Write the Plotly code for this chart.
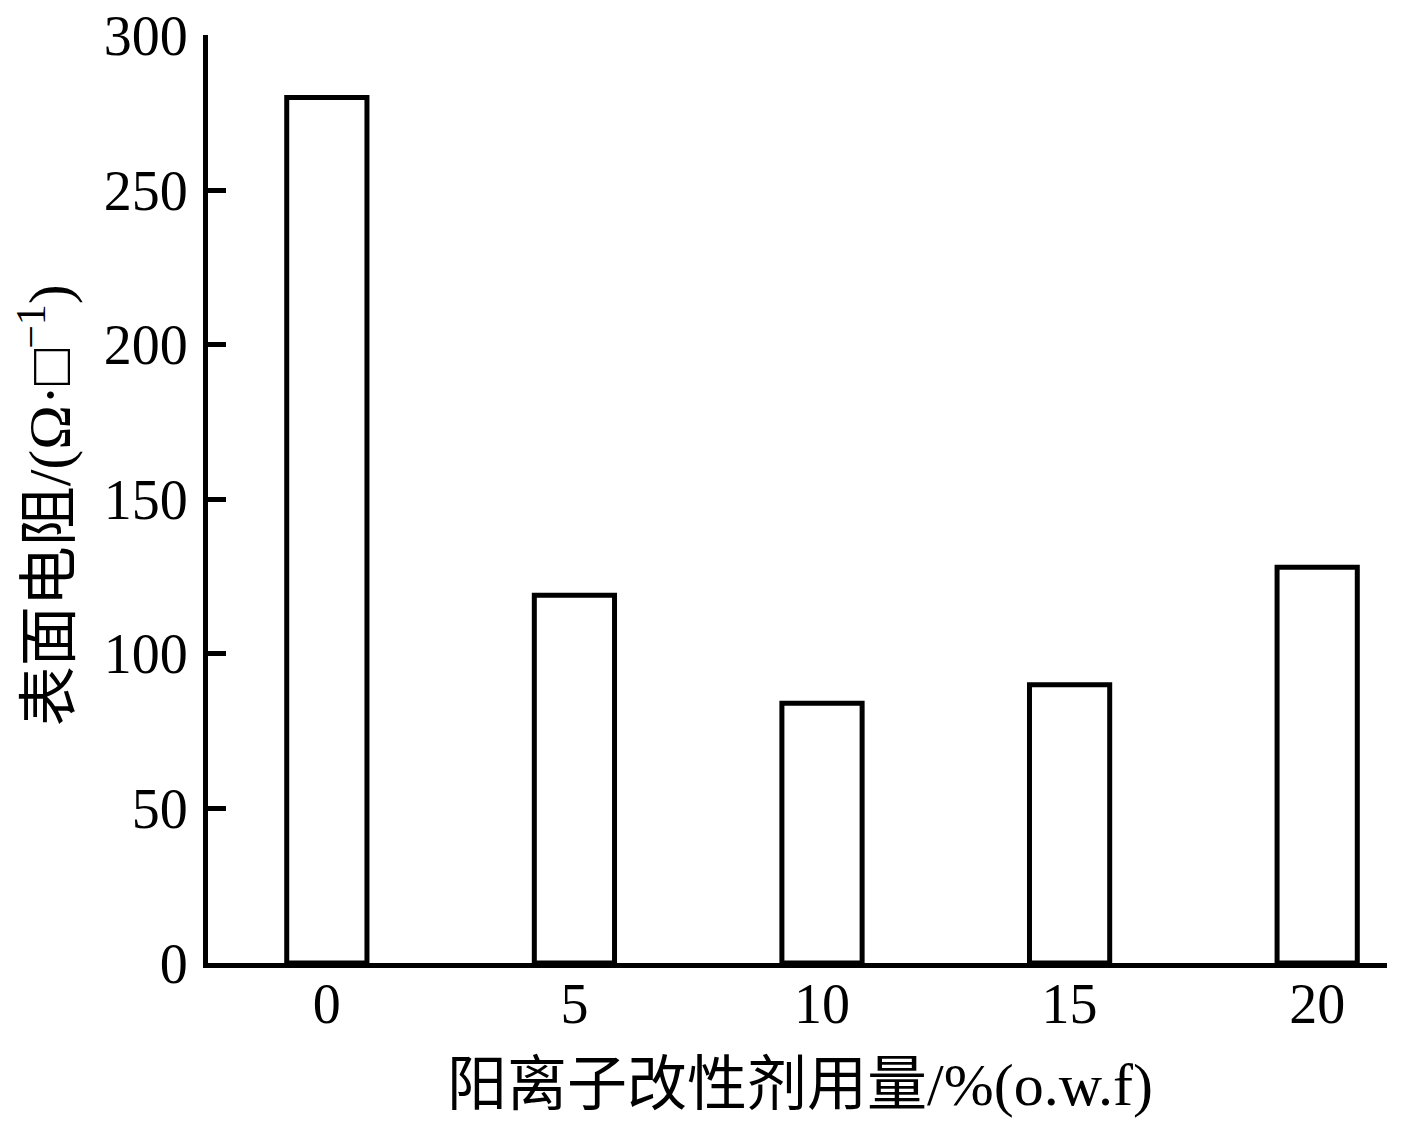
import plotly.graph_objects as go

# dosage of cationic modifier (% o.w.f) and surface resistance
dosage = [0, 5, 10, 15, 20]
resistance = [280, 119, 84, 90, 128]
y_ticks = [0, 50, 100, 150, 200, 250, 300]

num_font = "Liberation Serif, Times New Roman, Noto Sans CJK SC, serif"

fig = go.Figure()

fig.add_trace(
    go.Bar(
        x=dosage,
        y=resistance,
        width=1.62,
        marker=dict(color="white", line=dict(color="black", width=5)),
        showlegend=False,
    )
)

fig.update_layout(
    width=1417,
    height=1130,
    paper_bgcolor="white",
    plot_bgcolor="white",
    margin=dict(l=200, r=38, t=27, b=175),
    font=dict(family=num_font, color="black", size=56),
)

fig.update_xaxes(
    range=[-2.40, 21.41],
    tickvals=dosage,
    ticktext=[str(d) for d in dosage],
    showline=True,
    linecolor="black",
    linewidth=5,
    ticks="",
    ticklabelstandoff=-12,
    showgrid=False,
    zeroline=False,
    automargin=False,
    tickfont=dict(size=56),
)

fig.update_yaxes(
    range=[0, 300.2],
    tickvals=y_ticks,
    showline=True,
    linecolor="black",
    linewidth=5,
    ticks="inside",
    ticklen=18,
    tickwidth=5,
    tickcolor="black",
    ticklabelstandoff=4,
    ticklabeloverflow="allow",
    showgrid=False,
    zeroline=False,
    automargin=False,
    tickfont=dict(size=56),
)

# axis titles placed as annotations for exact position
fig.add_annotation(
    text="阳离子改性剂用量/%(o.w.f)",
    xref="paper", yref="paper", x=0.502, y=-0.131,
    showarrow=False, font=dict(size=60),
    xanchor="center", yanchor="middle",
)
fig.add_annotation(
    text="表面电阻/(Ω·□<sup>−1</sup>)",
    xref="paper", yref="paper", x=-0.138, y=0.4935,
    showarrow=False, font=dict(size=60), textangle=-90,
    xanchor="center", yanchor="middle",
)

fig.write_html("out.html")
